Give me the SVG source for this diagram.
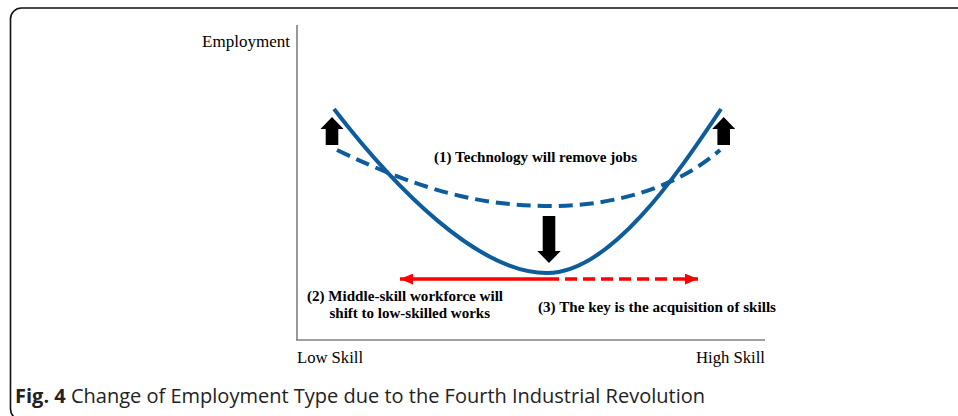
<svg xmlns="http://www.w3.org/2000/svg" width="958" height="416" viewBox="0 0 958 416">
<defs>
<style>
.lab{font-family:"Liberation Serif","Times New Roman",serif;fill:#000}
.b{font-weight:bold;font-size:14px}
.ax{font-size:16px}
.blue{fill:none;stroke:#0d5c9c;stroke-width:4}
.red{fill:none;stroke:#ff0000;stroke-width:3.5}
</style>
<marker id="rh" viewBox="0 0 12 10" refX="12" refY="5" markerWidth="13" markerHeight="11" markerUnits="userSpaceOnUse" orient="auto-start-reverse"><path d="M0,0 L12,5 L0,10 Z" fill="#ff0000"/></marker>
</defs>
<rect x="10.5" y="8" width="980" height="412" rx="11" fill="#fff" stroke="#111" stroke-width="1.6"/>
<g id="axes" stroke="#808080" stroke-width="1.6" fill="none">
<line x1="297" y1="25" x2="297" y2="340"/>
<line x1="296" y1="340" x2="765" y2="340"/>
</g>
<g id="axis-labels" class="lab ax">
<text x="290" y="47" text-anchor="end" textLength="88" lengthAdjust="spacingAndGlyphs">Employment</text>
<text x="297" y="363" textLength="66" lengthAdjust="spacingAndGlyphs">Low Skill</text>
<text x="765" y="363" text-anchor="end" textLength="69" lengthAdjust="spacingAndGlyphs">High Skill</text>
</g>
<g id="curves">
<path id="solid-curve" class="blue" d="M334,109 C395,188 478,273 547,273 C612,273 680,170 721,109"/>
<path id="dashed-curve" class="blue" stroke-dasharray="14,7" d="M337,150 C420,190 480,206 550,206 C620,206 680,185 720,150"/>
</g>
<g id="arrows" fill="#000">
<path id="up-left" d="M332,117 L343.5,129 L338.3,129 L338.3,145 L325.7,145 L325.7,129 L320.5,129 Z"/>
<path id="up-right" d="M723.7,117 L735.2,129 L730,129 L730,145 L717.4,145 L717.4,129 L712.2,129 Z"/>
<path id="down-mid" d="M549,263 L560.7,251 L555.3,251 L555.3,216 L542.7,216 L542.7,251 L537.3,251 Z"/>
</g>
<g id="connectors">
<line class="red" x1="547" y1="279" x2="400" y2="279" marker-end="url(#rh)"/>
<line class="red" x1="547" y1="279" x2="698" y2="279" stroke-dasharray="12,6" marker-end="url(#rh)"/>
</g>
<g id="label-1" class="lab b"><text x="434" y="162" textLength="203" lengthAdjust="spacingAndGlyphs">(1) Technology will remove jobs</text></g>
<g id="label-2" class="lab b">
<text x="307" y="301" textLength="196" lengthAdjust="spacingAndGlyphs">(2) Middle-skill workforce will</text>
<text x="329.5" y="317.5" textLength="160.5" lengthAdjust="spacingAndGlyphs">shift to low-skilled works</text>
</g>
<g id="label-3" class="lab b"><text x="538" y="312" textLength="238" lengthAdjust="spacingAndGlyphs">(3) The key is the acquisition of skills</text></g>
<g id="caption"><text x="15" y="403" font-family="'Open Sans','Noto Sans',sans-serif" font-size="20" fill="#222" textLength="690" lengthAdjust="spacingAndGlyphs"><tspan font-weight="bold">Fig. 4</tspan> Change of Employment Type due to the Fourth Industrial Revolution</text></g>
</svg>
